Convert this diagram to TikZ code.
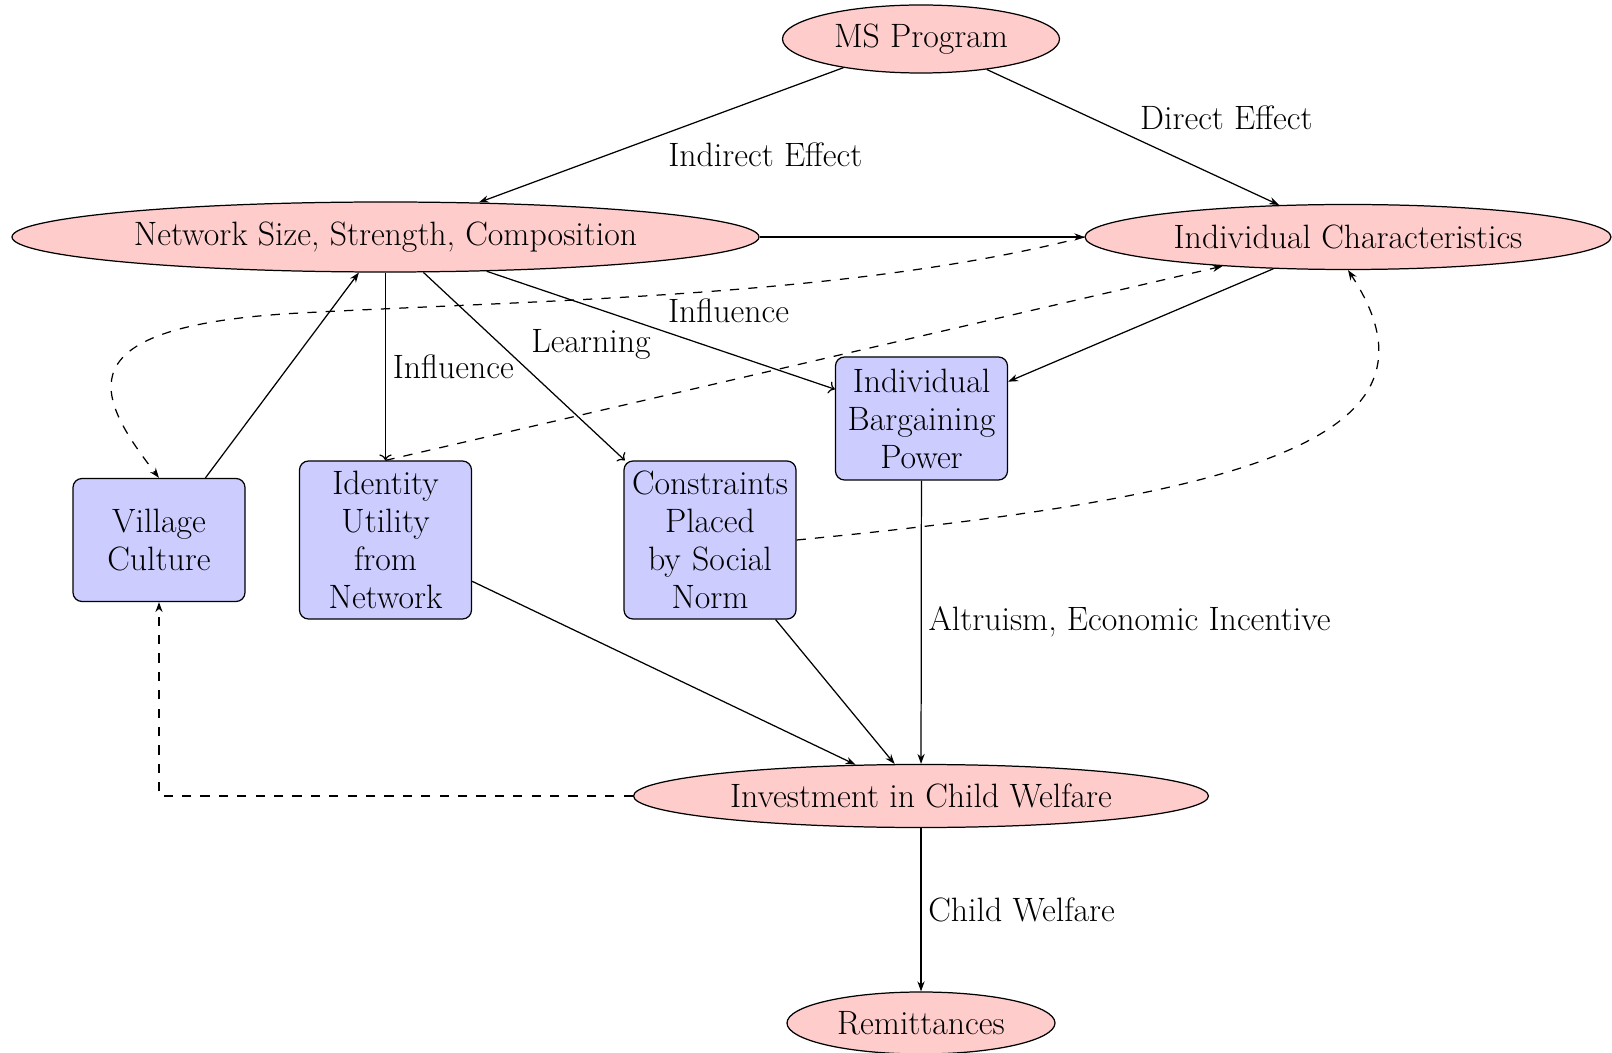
\documentclass[tikz,border=0pt]{standalone}
\usepackage{fontspec}
\usetikzlibrary{shapes.geometric,arrows.meta}
\begin{document}
\begin{tikzpicture}[x=0.5pt,y=-0.5pt,
  every node/.style={font=\fontsize{16.9}{19}\selectfont},
  oval/.style={ellipse, draw, fill=red!20, line width=0.62pt},
  box/.style={rectangle, rounded corners=4.5pt, draw, fill=blue!20, line width=0.62pt,
    align=center, minimum width=86pt, minimum height=61.5pt, text width=79pt, inner xsep=3.5pt},
  tallbox/.style={box, minimum height=79pt},
  sarr/.style={line width=0.62pt, -{Stealth[length=5pt,width=3.6pt]}},
  oarr/.style={line width=0.62pt, ->},
  darr/.style={sarr, dash pattern=on 4.6pt off 4.6pt}
]
\useasboundingbox (0,0) rectangle (1612,1053);

\node[oval, minimum width=138.5pt, minimum height=34pt] (ms) at (921,39) {MS Program};
\node[oval, minimum width=373.5pt, minimum height=35pt] (net) at (385.5,237) {Network Size, Strength, Composition};
\node[oval, minimum width=263pt, minimum height=32.5pt] (ic) at (1348,237) {Individual Characteristics};
\node[box] (barg) at (921.5,418.5) {Individual\\Bargaining\\Power};
\node[box] (village) at (159,540) {Village\\Culture};
\node[tallbox] (identity) at (385.5,540) {Identity\\Utility\\from\\Network};
\node[tallbox] (constraints) at (710,540) {Constraints\\Placed\\by Social\\Norm};
\node[oval, minimum width=287.5pt, minimum height=31.5pt] (invest) at (921,796) {Investment in Child Welfare};
\node[oval, minimum width=134pt, minimum height=31pt] (remit) at (921,1023) {Remittances};

\coordinate (bendA) at (300,313);

\draw[sarr] (ms) -- node[below right] {Indirect Effect} (net);
\draw[sarr] (ms) -- node[above right] {Direct Effect} (ic);
\draw[sarr] (net) -- (ic);
\draw[sarr] (ic) -- (barg);
\draw[oarr] (net) -- node[right] {Influence} (identity);
\draw[oarr] (net) -- node[above right] {Learning} (constraints);
\draw[oarr] (net) -- node[above right] {Influence} (barg);
\draw[sarr] (village) -- (net);
\draw[sarr] (identity) -- (invest);
\draw[sarr] (constraints) -- (invest);
\draw[sarr] (barg) -- node[right] {Altruism, Economic Incentive} (invest);
\draw[sarr] (invest) -- node[right] {Child Welfare} (remit);

\draw[darr] (ic.west) .. controls (850,297) and (540,300) .. (bendA)
  .. controls (60,326) and (95,395) .. (village.north);
\draw[darr] (identity.north) -- (ic);
\draw[darr] (constraints.east) .. controls (1250,496) and (1458,438) .. (ic.south);
\draw[darr] (invest.west) -| (village.south);
\end{tikzpicture}
\end{document}
